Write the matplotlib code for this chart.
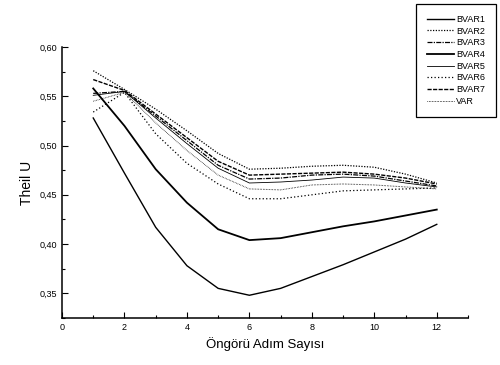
import matplotlib
matplotlib.use("Agg")
import matplotlib.pyplot as plt
from matplotlib.ticker import MultipleLocator, FuncFormatter

plt.rcParams['font.family'] = ['Liberation Sans', 'DejaVu Sans']

##### DATA #####

steps = [1, 2, 3, 4, 5, 6, 7, 8, 9, 10, 11, 12]

bvar1 = [0.528, 0.472, 0.417, 0.378, 0.355, 0.348, 0.355, 0.367, 0.379, 0.392, 0.405, 0.420]
bvar2 = [0.576, 0.557, 0.537, 0.515, 0.492, 0.476, 0.477, 0.479, 0.480, 0.478, 0.471, 0.462]
bvar3 = [0.553, 0.555, 0.530, 0.505, 0.480, 0.466, 0.467, 0.470, 0.471, 0.469, 0.464, 0.459]
bvar4 = [0.558, 0.520, 0.476, 0.442, 0.415, 0.404, 0.406, 0.412, 0.418, 0.423, 0.429, 0.435]
bvar5 = [0.551, 0.555, 0.528, 0.502, 0.477, 0.462, 0.463, 0.465, 0.468, 0.467, 0.462, 0.458]
bvar6 = [0.534, 0.554, 0.512, 0.482, 0.461, 0.446, 0.446, 0.450, 0.454, 0.455, 0.456, 0.457]
bvar7 = [0.567, 0.556, 0.532, 0.508, 0.484, 0.470, 0.471, 0.472, 0.473, 0.471, 0.467, 0.461]
var   = [0.545, 0.554, 0.523, 0.495, 0.470, 0.456, 0.455, 0.460, 0.461, 0.460, 0.458, 0.456]

labels = ["BVAR1", "BVAR2", "BVAR3", "BVAR4", "BVAR5", "BVAR6", "BVAR7", "VAR"]
series = [bvar1, bvar2, bvar3, bvar4, bvar5, bvar6, bvar7, var]

styles = [
    dict(ls="-", lw=1.0),
    dict(ls=(0, (1, 1.2)), lw=0.9),
    dict(ls=(0, (4, 1, 1, 1)), lw=0.9),
    dict(ls="-", lw=1.3),
    dict(ls="-", lw=0.6),
    dict(ls=(0, (1, 1.8)), lw=0.9),
    dict(ls=(0, (3, 1)), lw=1.0),
    dict(ls=(0, (0.6, 1)), lw=0.7),
]

##### DRAW #####

fig = plt.figure(figsize=(5, 3.65), dpi=100)
ax = fig.add_axes([0.124, 0.129, 0.812, 0.742])

for vals, lab, st in zip(series, labels, styles):
    ax.plot(steps, vals, color="black", label=lab, **st)

ax.set_xlim(0, 13)
ax.set_ylim(0.325, 0.60)

ax.xaxis.set_major_locator(MultipleLocator(2))
ax.xaxis.set_minor_locator(MultipleLocator(1))
ax.yaxis.set_major_locator(MultipleLocator(0.05))
ax.yaxis.set_minor_locator(MultipleLocator(0.025))
ax.yaxis.set_major_formatter(FuncFormatter(lambda v, p: f"{v:.2f}".replace(".", ",")))

ax.tick_params(which="both", direction="in", labelsize=6.5, width=0.8)
ax.tick_params(which="major", length=4)
ax.tick_params(which="minor", length=2)

ax.spines["top"].set_visible(False)
ax.spines["right"].set_visible(False)
ax.spines["left"].set_linewidth(1.1)
ax.spines["bottom"].set_linewidth(1.1)

ax.set_ylabel("Theil U", fontsize=10)
ax.set_xlabel("Öngörü Adım Sayısı", fontsize=9.5)

leg = fig.legend(loc="upper right", bbox_to_anchor=(0.996, 0.994),
                 fontsize=6.5, handlelength=3.0, handletextpad=0.3,
                 labelspacing=0.3, borderpad=1.2, borderaxespad=0.2,
                 fancybox=False, edgecolor="black", framealpha=1)
leg.get_frame().set_linewidth(0.9)

fig.savefig("out.png", dpi=100)
